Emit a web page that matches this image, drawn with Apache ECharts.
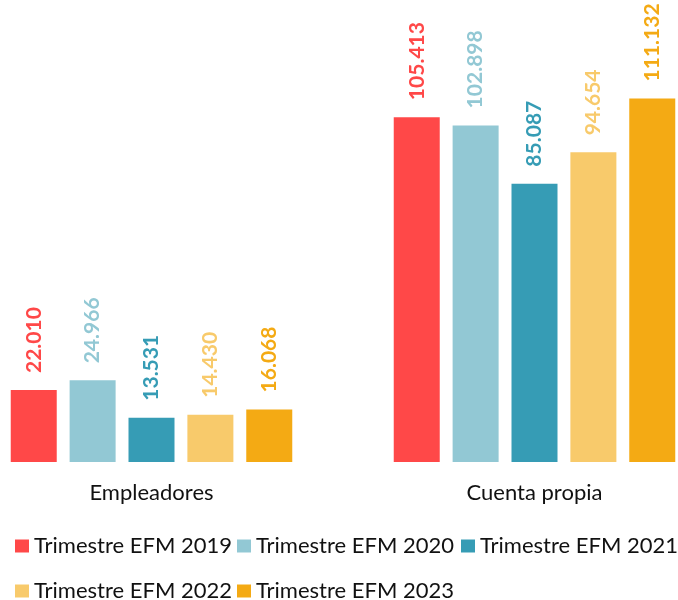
<!DOCTYPE html>
<html>
<head>
<meta charset="utf-8">
<script src="https://cdn.jsdelivr.net/npm/echarts@6/dist/echarts.min.js"></script>
<style>
  html, body { margin: 0; padding: 0; background: #fff; }
  #main { width: 678px; height: 600px; }
</style>
</head>
<body>
<div id="main"></div>
<script>
var categories = ['Empleadores', 'Cuenta propia'];
var seriesNames = ['Trimestre EFM 2019', 'Trimestre EFM 2020', 'Trimestre EFM 2021', 'Trimestre EFM 2022', 'Trimestre EFM 2023'];
var v2019 = [22010, 105413];
var v2020 = [24966, 102898];
var v2021 = [13531, 85087];
var v2022 = [14430, 94654];
var v2023 = [16068, 111132];
var colors = ['#FF4848', '#92C8D4', '#369CB5', '#F8CA6B', '#F4AA14'];

var allValues = [v2019, v2020, v2021, v2022, v2023];
var font = 'Lato';

function fmt(n) {
  // miles con punto
  return String(n).replace(/\B(?=(\d{3})+(?!\d))/g, '.');
}

var chart = echarts.init(document.getElementById('main'));

var series = seriesNames.map(function (name, i) {
  return {
    name: name,
    type: 'bar',
    data: allValues[i],
    barWidth: 46,
    barGap: '28%',
    itemStyle: { color: colors[i] },
    label: {
      show: true,
      position: 'top',
      rotate: 90,
      align: 'left',
      verticalAlign: 'middle',
      distance: 17,
      color: colors[i],
      fontFamily: font,
      fontWeight: 'bold',
      fontSize: 21,
      formatter: function (p) { return fmt(p.value); }
    }
  };
});

// una leyenda por elemento, dos filas
var legendPos = [[15, 535], [237, 535], [461, 535], [15, 580], [237, 580]];
var legends = seriesNames.map(function (name, i) {
  return {
    data: [name],
    left: legendPos[i][0], top: legendPos[i][1],
    padding: 0,
    itemWidth: 14, itemHeight: 13,
    icon: 'rect',
    textStyle: { fontFamily: font, fontSize: 22, color: '#111' }
  };
});

chart.setOption({
  animation: false,
  grid: { left: -40, right: -48, top: 4, bottom: 138, outerBoundsMode: 'none' },
  legend: legends,
  xAxis: {
    type: 'category',
    data: categories,
    axisLine: { show: false },
    axisTick: { show: false },
    axisLabel: { fontFamily: font, fontSize: 22, color: '#111', margin: 20 }
  },
  yAxis: {
    type: 'value',
    min: 0,
    max: 140000,
    show: false,
    splitLine: { show: false }
  },
  series: series
});
</script>
</body>
</html>
